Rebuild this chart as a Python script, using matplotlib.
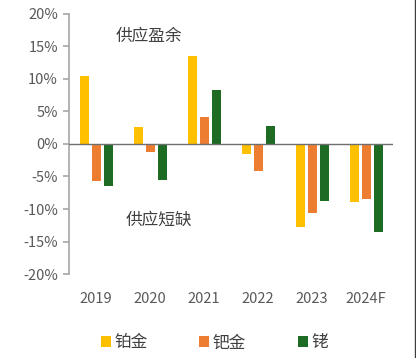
import matplotlib
matplotlib.use("Agg")
import matplotlib.pyplot as plt
import numpy as np
from matplotlib.patches import Patch
from matplotlib.lines import Line2D

plt.rcParams['font.family'] = ['Noto Sans CJK SC', 'DejaVu Sans']

years = ["2019", "2020", "2021", "2022", "2023", "2024F"]
platinum = [10.5, 2.6, 13.5, -1.5, -12.7, -8.9]
palladium = [-5.7, -1.3, 4.2, -4.1, -10.6, -8.4]
rhodium = [-6.4, -5.6, 8.3, 2.8, -8.7, -13.6]
series_names = ["铂金", "钯金", "铑"]
colors = ["#FFC000", "#ED7D31", "#1E6B24"]
y_ticks = [-20, -15, -10, -5, 0, 5, 10, 15, 20]

fig = plt.figure(figsize=(4.16, 3.58), dpi=100)
ax = fig.add_axes([0.166, 0.2346, 0.779, 0.7264])

x = np.arange(len(years))
w = 0.167
step = 0.222
for k, (vals, c) in enumerate(zip([platinum, palladium, rhodium], colors)):
    ax.bar(x + (k - 1) * step, vals, width=w, color=c, zorder=2)

ax.set_xlim(-0.5, len(years) - 0.5)
ax.set_ylim(-20, 20)
ax.set_yticks(y_ticks)
ax.set_yticklabels([f"{v}%" for v in y_ticks])
ax.axhline(0, color="#6F6F6F", linewidth=1.0, zorder=3)

for s in ["top", "right", "bottom"]:
    ax.spines[s].set_visible(False)
ax.spines["left"].set_color("#A6A6A6")
ax.spines["left"].set_linewidth(1.2)
ax.tick_params(axis="y", colors="#A6A6A6", length=4, width=1.2,
               labelcolor="#595959", labelsize=10.5, pad=4)
ax.set_xticks(x)
ax.set_xticklabels(years)
ax.tick_params(axis="x", length=0, labelcolor="#595959", labelsize=10.5, pad=13)

ax.text(0.36, 16.5, "供应盈余", fontsize=12, color="#404040", ha="left", va="center")
ax.text(0.54, -11.8, "供应短缺", fontsize=12, color="#404040", ha="left", va="center")

handles = [Patch(facecolor=c, label=n) for c, n in zip(colors, series_names)]
fig.legend(handles=handles, loc="center", bbox_to_anchor=(0.515, 0.042), ncol=3,
           frameon=False, fontsize=12, handlelength=0.6, handleheight=0.6,
           handletextpad=0.2, columnspacing=3.1, labelcolor="#404040")

fig.add_artist(Line2D([0.9965, 0.9965], [0, 1], transform=fig.transFigure,
                      color="#404040", linewidth=1.0))

fig.savefig("out.png", dpi=100)
